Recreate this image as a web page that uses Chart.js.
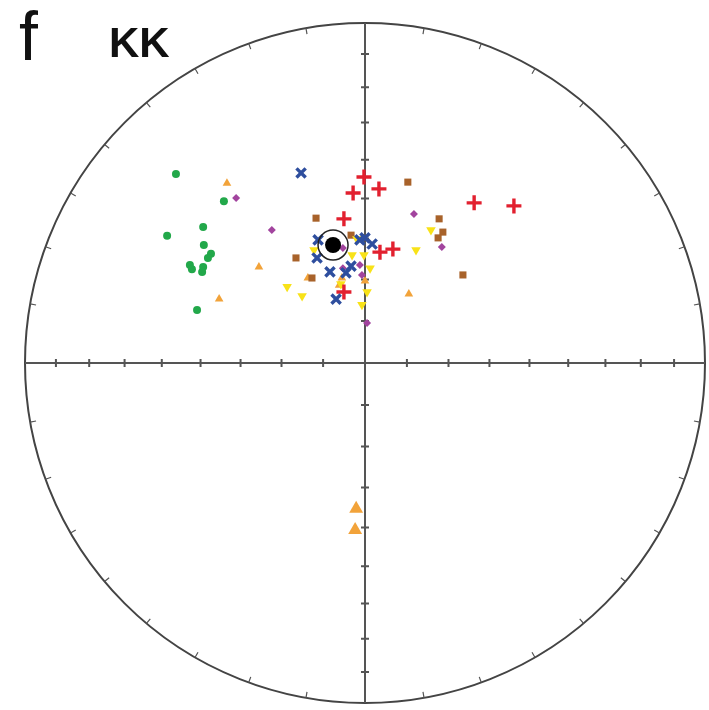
<!DOCTYPE html>
<html>
<head>
<meta charset="utf-8">
<title>KK</title>
<script src="https://cdn.jsdelivr.net/npm/chart.js@4.4.1/dist/chart.umd.min.js"></script>
<style>
  html, body { margin: 0; padding: 0; background: #fff; }
  #wrap { position: relative; width: 709px; height: 710px; }
  .lbl { position: absolute; font-family: "Liberation Sans", Arial, sans-serif; color: #111; line-height: 1; }
  #panel { left: 19px; top: 2px; font-size: 68px; }
  #site { left: 109px; top: 22px; font-size: 42px; font-weight: bold; }
</style>
</head>
<body>
<div id="wrap">
  <canvas id="net" width="709" height="710"></canvas>
  <div class="lbl" id="panel">f</div>
  <div class="lbl" id="site">KK</div>
</div>
<script>
// points in unit-circle coordinates of the equal-area net (x = east, y = north)
const greenX = [-0.556, -0.415, -0.476, -0.582, -0.474, -0.453, -0.462, -0.515, -0.509, -0.476, -0.479, -0.494];
const greenY = [0.556, 0.476, 0.400, 0.374, 0.347, 0.321, 0.309, 0.288, 0.276, 0.282, 0.268, 0.156];

const orangeX = [-0.406, -0.312, -0.429, 0.129, -0.168, -0.076, -0.068, 0.000];
const orangeY = [0.529, 0.282, 0.188, 0.203, 0.250, 0.229, 0.250, 0.241];

const orangeBigX = [-0.026, -0.029];
const orangeBigY = [-0.429, -0.491];

const purpleX = [-0.379, -0.274, 0.144, 0.226, 0.006, -0.065, -0.065, -0.015, -0.009];
const purpleY = [0.485, 0.391, 0.438, 0.341, 0.118, 0.338, 0.279, 0.288, 0.259];

const brownX = [0.126, -0.144, -0.203, -0.156, -0.041, 0.218, 0.229, 0.215, 0.288];
const brownY = [0.532, 0.426, 0.309, 0.250, 0.376, 0.424, 0.385, 0.368, 0.259];

const redX = [-0.003, 0.041, -0.035, -0.062, 0.082, 0.044, -0.062, 0.321, 0.438];
const redY = [0.547, 0.512, 0.500, 0.424, 0.335, 0.326, 0.209, 0.471, 0.462];

const blueX = [-0.188, -0.138, -0.141, -0.103, -0.085, 0.000, 0.021, -0.015, -0.041, -0.056];
const blueY = [0.559, 0.362, 0.309, 0.268, 0.188, 0.368, 0.350, 0.362, 0.285, 0.265];

const yellowX = [-0.229, -0.185, -0.009, 0.006, 0.150, 0.194, -0.024, -0.150, 0.015, -0.003, -0.038, -0.071];
const yellowY = [0.224, 0.197, 0.171, 0.209, 0.332, 0.391, 0.365, 0.332, 0.279, 0.318, 0.318, 0.232];

const meanX = [-0.094];
const meanY = [0.347];

// plunge ticks on the cross (degrees) and azimuth ticks on the primitive
const plungeTicks = [10, 20, 30, 40, 50, 60, 70, 80];
const azimuthStep = 10;

function pts(xs, ys) {
  return xs.map((x, i) => ({ x: x, y: ys[i] }));
}

// equal-area (Schmidt) radius for a plunge
function eqArea(p) {
  return Math.SQRT2 * Math.sin((90 - p) / 2 * Math.PI / 180);
}

const netPlugin = {
  id: 'net',
  beforeDatasetsDraw(chart) {
    const ctx = chart.ctx;
    const sx = chart.scales.x, sy = chart.scales.y;
    const cx = sx.getPixelForValue(0), cy = sy.getPixelForValue(0);
    const R = sx.getPixelForValue(1) - cx;
    ctx.save();
    ctx.strokeStyle = '#444';
    ctx.lineWidth = 2;
    ctx.beginPath();
    ctx.arc(cx, cy, R, 0, Math.PI * 2);
    ctx.stroke();

    ctx.strokeStyle = '#555';
    ctx.beginPath();
    ctx.moveTo(sx.getPixelForValue(-1), cy);
    ctx.lineTo(sx.getPixelForValue(1), cy);
    ctx.moveTo(cx, sy.getPixelForValue(1));
    ctx.lineTo(cx, sy.getPixelForValue(-1));
    ctx.stroke();

    // ticks across the axes
    ctx.lineWidth = 2;
    ctx.beginPath();
    plungeTicks.forEach(p => {
      const r = eqArea(p);
      [-1, 1].forEach(s => {
        const px = sx.getPixelForValue(s * r);
        ctx.moveTo(px, cy - 4); ctx.lineTo(px, cy + 4);
        const py = sy.getPixelForValue(s * r);
        ctx.moveTo(cx - 4, py); ctx.lineTo(cx + 4, py);
      });
    });
    ctx.stroke();

    // ticks on the primitive circle
    ctx.lineWidth = 1.2;
    ctx.beginPath();
    for (let a = 0; a < 360; a += azimuthStep) {
      if (a % 90 === 0) continue;
      const t = a * Math.PI / 180;
      const dx = Math.sin(t), dy = -Math.cos(t);
      ctx.moveTo(cx + dx * R, cy + dy * R);
      ctx.lineTo(cx + dx * (R - 6), cy + dy * (R - 6));
    }
    ctx.stroke();
    ctx.restore();
  }
};

new Chart(document.getElementById('net'), {
  type: 'scatter',
  data: {
    datasets: [
      { label: 'mean', data: pts(meanX, meanY), pointStyle: 'circle', pointRadius: 8, backgroundColor: '#000', borderColor: '#000', borderWidth: 0, order: 0 },
      { label: 'mean cone', data: pts(meanX, meanY), pointStyle: 'circle', pointRadius: 15, backgroundColor: 'rgba(0,0,0,0)', borderColor: '#222', borderWidth: 1.5, order: 0 },
      { label: 'blue', data: pts(blueX, blueY), pointStyle: 'crossRot', pointRadius: 6.5, borderColor: '#2E4E9E', borderWidth: 3.4, order: 1 },
      { label: 'red', data: pts(redX, redY), pointStyle: 'cross', pointRadius: 7.5, borderColor: '#E2202F', borderWidth: 3.4, order: 2 },
      { label: 'yellow', data: pts(yellowX, yellowY), pointStyle: 'triangle', rotation: 180, pointRadius: 5.5, backgroundColor: '#F8E218', borderWidth: 0, order: 3 },
      { label: 'purple', data: pts(purpleX, purpleY), pointStyle: 'rectRot', pointRadius: 4, backgroundColor: '#A2449E', borderWidth: 0, order: 4 },
      { label: 'brown', data: pts(brownX, brownY), pointStyle: 'rect', pointRadius: 5, backgroundColor: '#A8622A', borderWidth: 0, order: 5 },
      { label: 'orange', data: pts(orangeX, orangeY), pointStyle: 'triangle', pointRadius: 5, backgroundColor: '#F2A33A', borderWidth: 0, order: 6 },
      { label: 'orange big', data: pts(orangeBigX, orangeBigY), pointStyle: 'triangle', pointRadius: 8, backgroundColor: '#F2A33A', borderWidth: 0, order: 6 },
      { label: 'green', data: pts(greenX, greenY), pointStyle: 'circle', pointRadius: 4, backgroundColor: '#22A84A', borderWidth: 0, order: 7 }
    ]
  },
  options: {
    responsive: false,
    animation: false,
    clip: false,
    layout: { autoPadding: false, padding: { left: 25, right: 4, top: 23, bottom: 7 } },
    plugins: { legend: { display: false }, tooltip: { enabled: false } },
    scales: {
      x: { type: 'linear', min: -1, max: 1, display: false },
      y: { type: 'linear', min: -1, max: 1, display: false }
    }
  },
  plugins: [netPlugin]
});
</script>
</body>
</html>
